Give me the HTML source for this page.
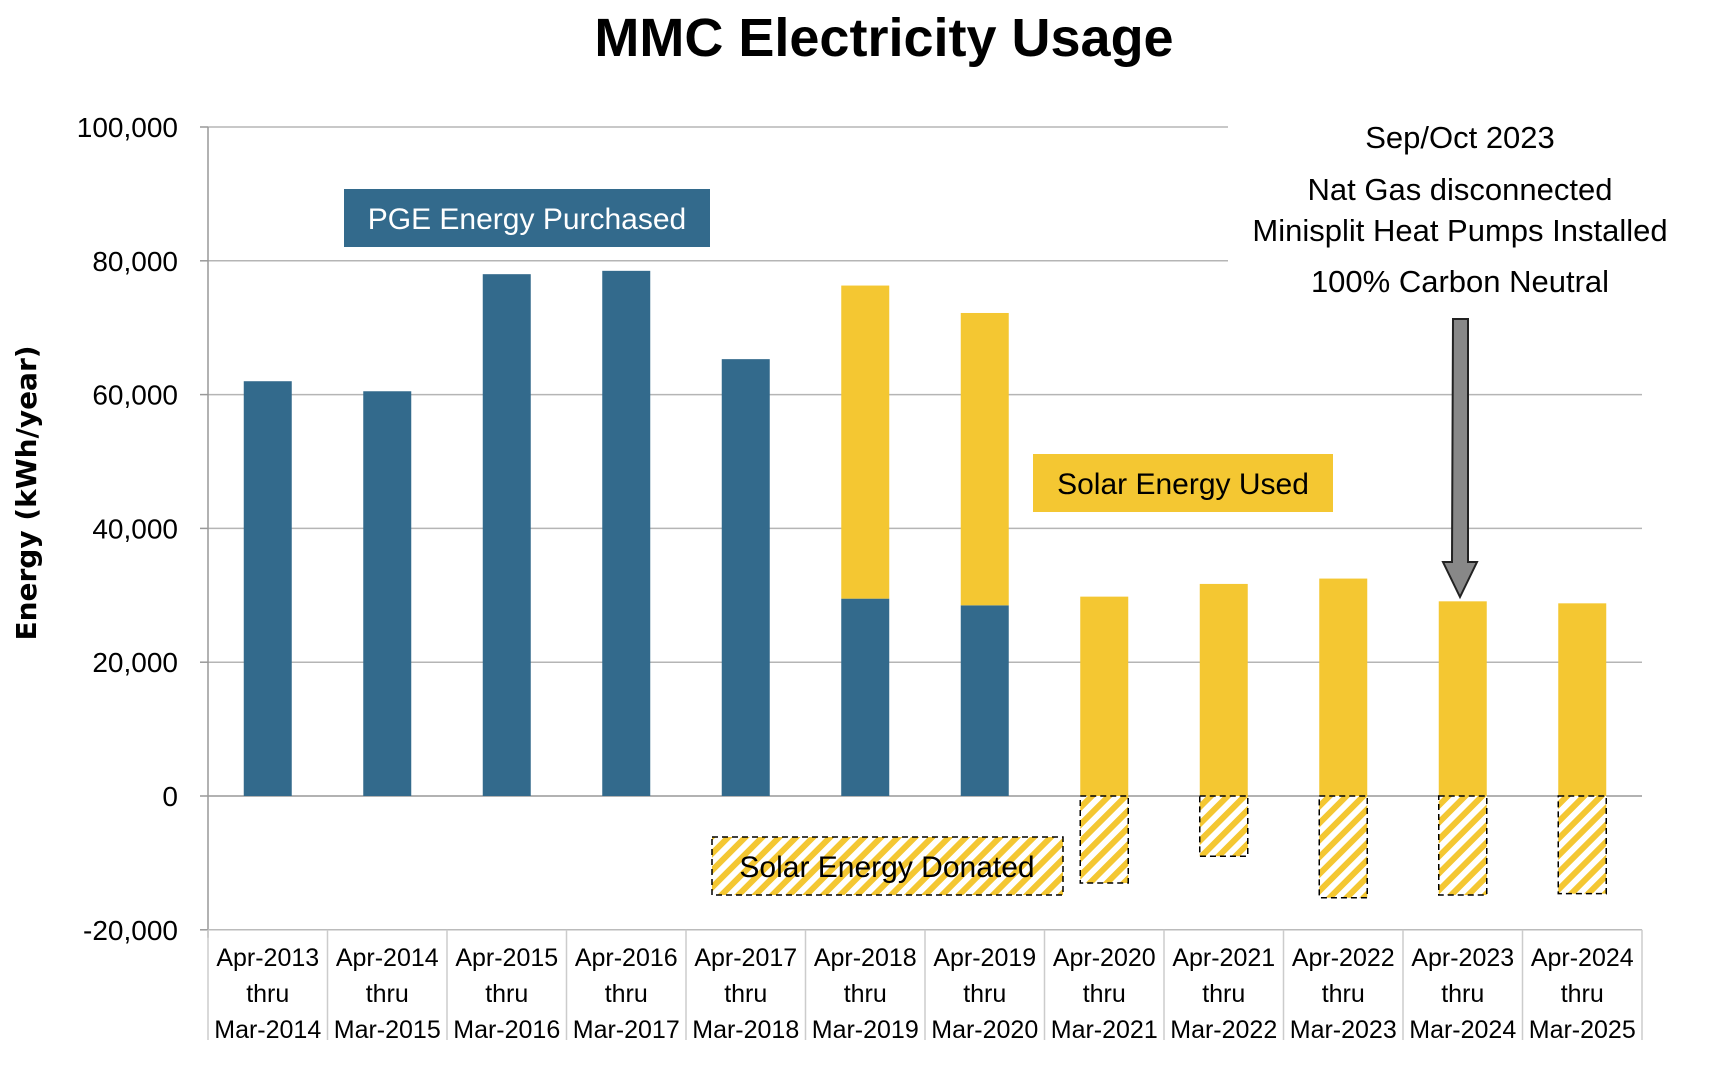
<!DOCTYPE html>
<html><head><meta charset="utf-8"><style>
body{margin:0;background:#fff;}
svg text{font-family:"Liberation Sans",sans-serif;}
</style></head><body>
<svg id="c" width="1716" height="1076" viewBox="0 0 1716 1076" xmlns="http://www.w3.org/2000/svg">
<defs><pattern id="hatch" width="12" height="12" patternUnits="userSpaceOnUse" patternTransform="rotate(45)">
<rect width="12" height="12" fill="#fff"/><rect width="6" height="12" fill="#F4C732"/></pattern></defs>
<text x="884" y="56" text-anchor="middle" font-size="54" font-weight="bold" fill="#000">MMC Electricity Usage</text>
<text transform="translate(36,493) rotate(-90)" text-anchor="middle" font-size="28" font-weight="bold" style="font-family:'DejaVu Sans',sans-serif">Energy (kWh/year)</text>
<g id="grid"></g><g id="bars"></g><g id="xl"></g>
<rect x="344" y="189" width="366" height="58" fill="#336A8C"/>
<text x="527" y="229" text-anchor="middle" font-size="30" fill="#fff">PGE Energy Purchased</text>
<rect x="1033" y="454" width="300" height="58" fill="#F4C732"/>
<text x="1183" y="494" text-anchor="middle" font-size="30" fill="#000">Solar Energy Used</text>
<rect x="712" y="837" width="351" height="58" fill="url(#hatch)" stroke="#000" stroke-width="1.5" stroke-dasharray="6,4"/>
<text x="887" y="877" text-anchor="middle" font-size="30" fill="#000">Solar Energy Donated</text>
<g font-size="31" text-anchor="middle">
<text x="1460" y="148">Sep/Oct 2023</text>
<text x="1460" y="200">Nat Gas disconnected</text>
<text x="1460" y="241">Minisplit Heat Pumps Installed</text>
<text x="1460" y="292">100% Carbon Neutral</text>
</g>
<path d="M1453,319 L1468,319 L1468,562 L1477,562 L1460,597 L1443,562 L1452,562 Z" fill="#888" stroke="#222" stroke-width="2"/>
</svg>
<script>
const categories=[["Apr-2013","Mar-2014"],["Apr-2014","Mar-2015"],["Apr-2015","Mar-2016"],["Apr-2016","Mar-2017"],["Apr-2017","Mar-2018"],["Apr-2018","Mar-2019"],["Apr-2019","Mar-2020"],["Apr-2020","Mar-2021"],["Apr-2021","Mar-2022"],["Apr-2022","Mar-2023"],["Apr-2023","Mar-2024"],["Apr-2024","Mar-2025"]];
const pgePurchased=[62000,60500,78000,78500,65300,29500,28500,0,0,0,0,0];
const solarUsed=[0,0,0,0,0,46800,43700,29800,31700,32500,29100,28800];
const solarDonated=[0,0,0,0,0,0,0,-13000,-9000,-15200,-14800,-14600];
const yTicks=[100000,80000,60000,40000,20000,0,-20000];
const yTickLabels=["100,000","80,000","60,000","40,000","20,000","0","-20,000"];
const NS="http://www.w3.org/2000/svg";
const X0=208,X1=1642,bw=(X1-X0)/categories.length,barW=48;
const y=v=>796-v*(133.8/20000);
const xc=i=>X0+bw*(i+0.5);
function mk(tag,attrs,parent){const e=document.createElementNS(NS,tag);for(const k in attrs)e.setAttribute(k,attrs[k]);parent.appendChild(e);return e;}
const grid=document.getElementById('grid'),bars=document.getElementById('bars'),xl=document.getElementById('xl');
yTicks.forEach((t,i)=>{
  const right=(t>=80000)?1228:X1;
  if(t!==-20000){const l=mk('line',{x1:X0,x2:right,y1:y(t),y2:y(t),stroke:t===0?'#999':'#b5b5b5','stroke-width':1.5},grid);
  
  }
  mk('line',{x1:X0-8,x2:X0,y1:y(t),y2:y(t),stroke:'#999','stroke-width':1.5},grid);
  const tx=mk('text',{x:178,y:y(t)+10,'text-anchor':'end','font-size':28},grid);tx.textContent=yTickLabels[i];
  
  
});
mk('line',{x1:X0,x2:X0,y1:y(100000),y2:y(-20000)+8,stroke:'#999','stroke-width':1.5},grid);
mk('line',{x1:X0,x2:X1,y1:y(-20000),y2:y(-20000),stroke:'#bbb','stroke-width':1.5},grid);
categories.forEach((c,i)=>{
  const cx=xc(i);
  if(pgePurchased[i]>0){const r=mk('rect',{x:cx-barW/2,y:y(pgePurchased[i]),width:barW,height:y(0)-y(pgePurchased[i]),fill:'#336A8C'},bars);
  
  }
  if(solarUsed[i]>0){const top=pgePurchased[i]+solarUsed[i];const r=mk('rect',{x:cx-barW/2,y:y(top),width:barW,height:y(pgePurchased[i])-y(top),fill:'#F4C732'},bars);
  
  }
  if(solarDonated[i]<0){const r=mk('rect',{x:cx-barW/2,y:y(0),width:barW,height:y(solarDonated[i])-y(0),fill:'url(#hatch)',stroke:'#000','stroke-width':1.5,'stroke-dasharray':'6,4'},bars);
  
  }
  mk('line',{x1:X0+bw*(i+1),x2:X0+bw*(i+1),y1:y(-20000),y2:1040,stroke:'#ccc','stroke-width':1.5},xl);
  [c[0],'thru',c[1]].forEach((s,j)=>{const t=mk('text',{x:cx,y:966+j*36,'text-anchor':'middle','font-size':25},xl);t.textContent=s;
  
  });
});
mk('line',{x1:X0,x2:X0,y1:y(-20000),y2:1040,stroke:'#ccc','stroke-width':1.5},xl);
</script>
</body></html>
